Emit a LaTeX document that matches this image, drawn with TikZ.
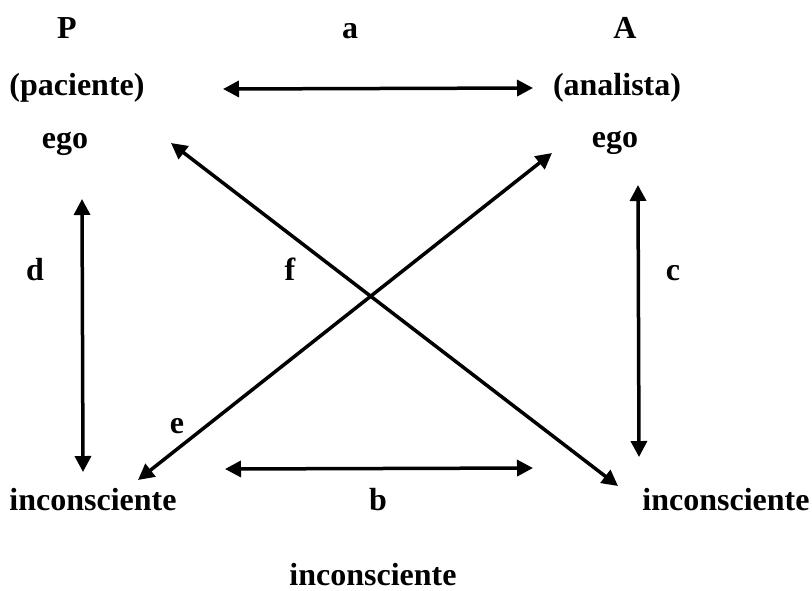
\documentclass[tikz,border=0pt]{standalone}
\usepackage{fontspec}
\setmainfont{Liberation Serif}
\usetikzlibrary{arrows.meta}
\tikzset{
  lbl/.style={anchor=base, inner sep=0pt,
              font=\bfseries\fontsize{16}{19}\selectfont},
  lnk/.style={{Triangle[length=8pt,width=8pt]}-{Triangle[length=8pt,width=8pt]},
              line width=1.75pt},
}
\begin{document}
\begin{tikzpicture}[x=0.5pt, y=-0.5pt]
  \useasboundingbox (0,0) rectangle (812,590);
  % paciente / analista
  \node[lbl] (P) at (67,38) {P};
  \node[lbl] (la) at (350,38) {a};
  \node[lbl] (A) at (625,38) {A};
  \node[lbl] (pac) at (77,95) {(paciente)};
  \node[lbl] (ana) at (617,95) {(analista)};
  \node[lbl] (egoP) at (65,148) {ego};
  \node[lbl] (egoA) at (615,147) {ego};
  % middle labels
  \node[lbl] (ld) at (35,280) {d};
  \node[lbl] (lf) at (290,280) {f};
  \node[lbl] (lc) at (673,280) {c};
  \node[lbl] (le) at (177,433) {e};
  % bottom row
  \node[lbl] (incP) at (93,510) {inconsciente};
  \node[lbl] (lb) at (378,510) {b};
  \node[lbl] (incA) at (726,510) {inconsciente};
  \node[lbl] (incB) at (373,585) {inconsciente};
  % arrow ends
  \coordinate (aW) at (223,89);
  \coordinate (aE) at (533,88);
  \coordinate (bW) at (225,469);
  \coordinate (bE) at (533,468);
  \coordinate (dN) at (82,199);
  \coordinate (dS) at (83,472);
  \coordinate (cN) at (638,185);
  \coordinate (cS) at (639,457);
  \coordinate (eNE) at (552,153);
  \coordinate (eSW) at (138,480);
  \coordinate (fNW) at (171,143);
  \coordinate (fSE) at (618,486);
  \draw[lnk] (aW) -- (aE);
  \draw[lnk] (bW) -- (bE);
  \draw[lnk] (dN) -- (dS);
  \draw[lnk] (cN) -- (cS);
  \draw[lnk] (eSW) -- (eNE);
  \draw[lnk] (fNW) -- (fSE);
\end{tikzpicture}
\end{document}
